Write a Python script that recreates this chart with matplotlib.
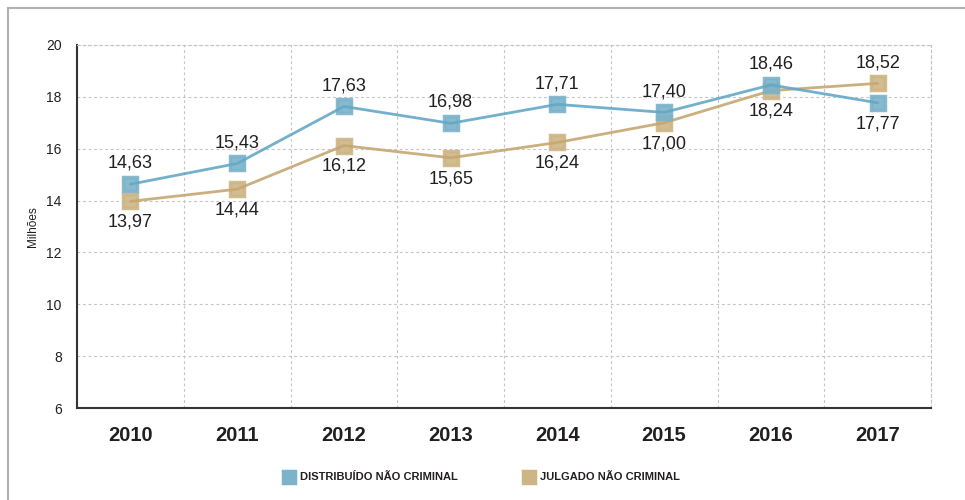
import matplotlib
matplotlib.use("Agg")
import matplotlib.pyplot as plt
from matplotlib.lines import Line2D

years = ["2010", "2011", "2012", "2013", "2014", "2015", "2016", "2017"]
distribuido = [14.63, 15.43, 17.63, 16.98, 17.71, 17.40, 18.46, 17.77]
julgado = [13.97, 14.44, 16.12, 15.65, 16.24, 17.00, 18.24, 18.52]
series_names = ["DISTRIBUÍDO NÃO CRIMINAL", "JULGADO NÃO CRIMINAL"]
y_ticks = [6, 8, 10, 12, 14, 16, 18, 20]

FONT = ["Liberation Sans", "DejaVu Sans"]
plt.rcParams["font.family"] = FONT

blue_m = "#7bb3ca"
blue_l = "#64a8c6"
tan_m = "#cdb585"
tan_l = "#c6a771"
txt = "#231f20"
grid_c = "#c4c4c4"

fig = plt.figure(figsize=(9.65, 5.0), dpi=100)
fig.add_artist(Line2D([8/965, 1], [1-8/500, 1-8/500], transform=fig.transFigure, color="#b0b0b0", lw=1.5))
fig.add_artist(Line2D([8/965, 8/965], [0, 1-8/500], transform=fig.transFigure, color="#b0b0b0", lw=1.5))

ax = fig.add_axes([77/965, 1-408/500, (931-77)/965, (408-45)/500])
x = list(range(len(years)))

for vals, mc, lc, z in [(julgado, tan_m, tan_l, 3), (distribuido, blue_m, blue_l, 4)]:
    ax.plot(x, vals, linestyle="none", marker="s", markersize=10, markerfacecolor=mc,
            markeredgecolor=mc, markeredgewidth=2.5, alpha=0.9, zorder=z)
    ax.plot(x, vals, color=lc, lw=2.0, alpha=0.9, zorder=z + 0.5, solid_capstyle="round")

def fmt(v):
    return f"{v:.2f}".replace(".", ",")

for i, (d, j) in enumerate(zip(distribuido, julgado)):
    d_above = d >= j
    ax.annotate(fmt(d), (i, d), xytext=(0, 15 if d_above else -15), textcoords="offset points",
                ha="center", va="center", fontsize=13, color=txt, zorder=6)
    ax.annotate(fmt(j), (i, j), xytext=(0, -15 if d_above else 15), textcoords="offset points",
                ha="center", va="center", fontsize=13, color=txt, zorder=6)

ax.set_xlim(-0.5, 7.5)
ax.set_ylim(6, 20)
ax.set_yticks(y_ticks)
ax.set_yticklabels([str(t) for t in y_ticks], fontsize=10, color=txt)
ax.set_xticks(x)
ax.set_xticklabels(years, fontsize=14.5, fontweight="bold", color=txt)
ax.set_xticks([i + 0.5 for i in x], minor=True)
ax.tick_params(axis="both", which="both", length=0)
ax.tick_params(axis="x", pad=13)
ax.tick_params(axis="y", pad=11)
ax.grid(True, which="minor", axis="x", color=grid_c, linestyle=(0, (2.5, 2.5)), lw=0.8)
ax.grid(True, which="major", axis="y", color=grid_c, linestyle=(0, (2.5, 2.5)), lw=0.8)
ax.set_axisbelow(True)
for s in ["top", "right"]:
    ax.spines[s].set_color(grid_c)
    ax.spines[s].set_linestyle((0, (2.5, 2.5)))
    ax.spines[s].set_linewidth(0.8)
for s in ["left", "bottom"]:
    ax.spines[s].set_color("#333333")
    ax.spines[s].set_linewidth(1.5)
ax.set_ylabel("Milhões", fontsize=8.5, color=txt, labelpad=5)

# legend drawn manually in figure coordinates
leg_y = 1 - 476.5/500
for name, mc, mx, tx in [(series_names[0], blue_m, 289, 300), (series_names[1], tan_m, 528.5, 540)]:
    fig.add_artist(Line2D([mx/965], [leg_y], transform=fig.transFigure, linestyle="none", marker="s",
                          markersize=8.5, markerfacecolor=mc, markeredgecolor=mc, markeredgewidth=2.5))
    fig.text(tx/965, leg_y, name, ha="left", va="center", fontsize=8, fontweight="bold", color=txt)

fig.savefig("out.png", dpi=100)
